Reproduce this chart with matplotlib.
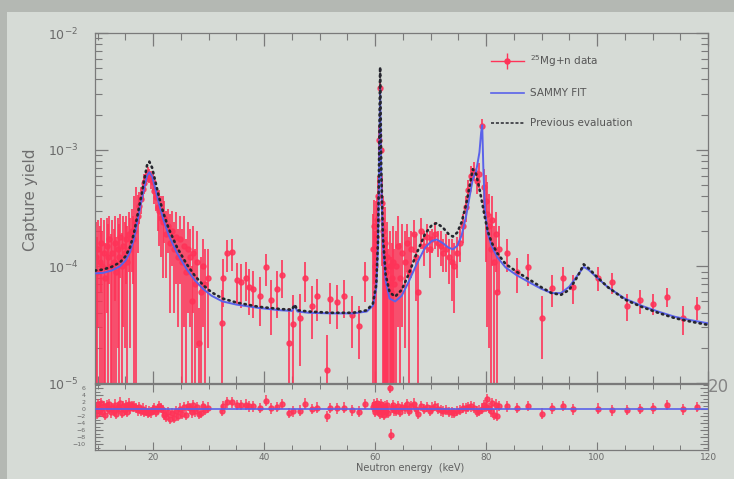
import numpy as np
import matplotlib.pyplot as plt
from matplotlib.lines import Line2D
from matplotlib.patches import Rectangle
from matplotlib.ticker import MultipleLocator, LogLocator, NullFormatter

# resonance curves: neutron energy (keV) vs capture yield
curve_energy = [9.5, 11, 12.5, 14, 15, 15.8, 16.5, 17.2, 17.8, 18.4, 18.9, 19.3, 19.8,
                20.4, 21.0, 21.8, 22.8, 24.3, 26.0, 27.5, 29.0, 30.5, 32.5, 35, 39, 43,
                45.0, 45.5, 46.0, 48, 52, 56, 58.5, 59.6, 60.2, 60.5, 60.7, 60.9, 61.1,
                61.4, 61.9, 62.6, 63.6, 64.8, 66.0, 67.5, 69.0, 70.2, 71.1, 72.2, 73.2,
                74.0, 74.8, 75.6, 76.4, 77.0, 77.6, 78.2, 78.8, 79.1, 79.3, 79.5, 79.8,
                80.3, 81.0, 82.0, 83.5, 85.5, 88, 90, 91.8, 93.5, 95, 96.5, 97.6, 98.5,
                100, 102, 105, 108, 111, 114, 117, 120]

sammy_fit = [8.7e-5, 8.8e-5, 9.2e-5, 1.0e-4, 1.12e-4, 1.32e-4, 1.7e-4, 2.5e-4, 3.5e-4,
             4.8e-4, 6.0e-4, 6.4e-4, 5.9e-4, 4.6e-4, 3.5e-4, 2.55e-4, 1.85e-4, 1.3e-4,
             9.5e-5, 7.6e-5, 6.4e-5, 5.6e-5, 5.0e-5, 4.7e-5, 4.4e-5, 4.2e-5, 4.15e-5,
             4.6e-5, 4.1e-5, 4.0e-5, 3.95e-5, 3.95e-5, 4.1e-5, 4.6e-5, 6.5e-5, 1.4e-4,
             5.5e-4, 3.5e-3, 5.5e-4, 1.5e-4, 7.5e-5, 5.3e-5, 5.0e-5, 5.6e-5, 7.3e-5,
             1.05e-4, 1.45e-4, 1.65e-4, 1.7e-4, 1.58e-4, 1.45e-4, 1.4e-4, 1.5e-4,
             1.85e-4, 2.7e-4, 3.9e-4, 5.6e-4, 6.5e-4, 9.5e-4, 1.4e-3, 1.62e-3, 7.0e-4,
             3.0e-4, 1.9e-4, 1.5e-4, 1.2e-4, 9.8e-5, 8.4e-5, 7.2e-5, 6.4e-5, 5.9e-5,
             5.9e-5, 6.7e-5, 8.4e-5, 9.9e-5, 9.3e-5, 8.0e-5, 6.6e-5, 5.3e-5, 4.6e-5,
             4.1e-5, 3.7e-5, 3.45e-5, 3.25e-5]

prev_eval = [9.2e-5, 9.4e-5, 9.9e-5, 1.08e-4, 1.22e-4, 1.45e-4, 1.9e-4, 2.8e-4, 3.9e-4,
             5.6e-4, 7.4e-4, 7.9e-4, 7.0e-4, 5.3e-4, 4.0e-4, 2.9e-4, 2.1e-4, 1.45e-4,
             1.05e-4, 8.3e-5, 6.9e-5, 6.0e-5, 5.3e-5, 4.9e-5, 4.5e-5, 4.3e-5, 4.25e-5,
             4.7e-5, 4.2e-5, 4.1e-5, 4.0e-5, 4.0e-5, 4.2e-5, 4.8e-5, 7.0e-5, 1.6e-4,
             7.0e-4, 5.1e-3, 7.0e-4, 1.8e-4, 8.5e-5, 6.0e-5, 5.5e-5, 6.3e-5, 8.5e-5,
             1.3e-4, 1.9e-4, 2.25e-4, 2.35e-4, 2.15e-4, 1.9e-4, 1.8e-4, 1.95e-4,
             2.4e-4, 3.4e-4, 4.8e-4, 6.8e-4, 6.2e-4, 4.6e-4, 3.9e-4, 3.5e-4, 3.1e-4,
             2.6e-4, 2.0e-4, 1.6e-4, 1.3e-4, 1.05e-4, 9.0e-5, 7.6e-5, 6.6e-5, 5.9e-5,
             5.7e-5, 6.3e-5, 8.2e-5, 1.04e-4, 9.6e-5, 8.1e-5, 6.6e-5, 5.2e-5, 4.5e-5,
             4.0e-5, 3.6e-5, 3.35e-5, 3.15e-5]

# measured points (yield and error in units of 1e-4) and normalised residuals
data_energy = [
    9.6, 9.85, 10.1, 10.35, 10.6, 10.85, 11.1, 11.35, 11.6, 11.85, 12.1, 12.35, 12.6, 12.85,
    13.1, 13.35, 13.6, 13.85, 14.1, 14.35, 14.6, 14.85, 15.1, 15.35, 15.6, 15.85, 16.1, 16.35,
    16.6, 16.9, 17.2, 17.5, 17.8, 18.1, 18.4, 18.7, 19.0, 19.3, 19.6, 19.9, 20.2, 20.5,
    20.8, 21.1, 21.4, 21.7,
    22.0, 22.35, 22.7, 23.05, 23.4, 23.75, 24.1, 24.45, 24.8, 25.15, 25.5, 25.85, 26.2,
    26.55, 26.9, 27.25, 27.6, 27.95, 28.3, 28.65, 29.0, 29.4, 29.8,
    32.4, 32.6, 33.3, 34.2, 35.1, 35.8, 36.7, 37.3, 38.0, 39.2, 40.3, 41.2, 42.3, 43.2,
    44.5, 45.2, 46.5, 47.4, 48.6, 49.5, 51.3, 51.9, 53.1, 54.4, 55.8, 57.1, 58.2,
    59.6, 59.8, 60.0, 60.2, 60.4, 60.6, 60.75, 60.9, 61.05, 61.2, 61.4, 61.6, 61.8, 62.0,
    62.2, 62.4, 62.6, 62.8, 63.0, 63.2, 63.4,
    63.7, 64.1, 64.5, 64.9, 65.3, 65.7, 66.1, 66.5, 67.0, 67.4, 67.8, 68.3, 68.8, 69.3,
    69.8, 70.3, 70.8, 71.3, 71.8, 72.3, 72.8, 73.3, 73.8, 74.3, 74.8, 75.3, 75.8, 76.3,
    76.8, 77.3, 77.8, 78.3, 78.8, 79.3, 79.6, 79.9, 80.2, 80.5, 80.8, 81.1, 81.4, 81.7,
    82.0, 82.4,
    83.8, 85.6, 87.6, 90.1, 91.9, 93.8, 95.7, 100.2, 102.7, 105.4, 107.7, 110.1, 112.6,
    115.5, 118.0,
]
data_yield = [
    1.2, 0.9, 1.4, 1.1, 1.6, 1.0, 1.3, 0.8, 1.5, 1.2, 1.7, 1.0, 1.3, 1.1,
    1.6, 0.9, 1.4, 1.2, 1.8, 1.0, 1.5, 1.3, 1.7, 1.1, 1.9, 1.4, 2.0, 1.7,
    2.0, 2.4, 2.7, 3.3, 3.8, 4.6, 5.2, 5.8, 6.2, 6.0, 5.6, 5.3, 4.4, 3.9,
    3.2, 3.0, 2.6, 2.4,
    2.6, 1.9, 2.2, 1.6, 2.0, 1.4, 1.8, 1.2, 1.7, 1.1, 1.5, 0.9, 1.4,
    1.2, 0.5, 1.3, 0.7, 1.1, 0.22, 0.6, 1.0, 0.7, 0.8,
    0.33, 0.80, 1.29, 1.32, 0.77, 0.74, 0.80, 0.66, 0.64, 0.56, 0.98, 0.51, 0.64, 0.84,
    0.22, 0.32, 0.36, 0.79, 0.46, 0.56, 0.13, 0.52, 0.49, 0.56, 0.38, 0.31, 0.79,
    1.4, 2.2, 1.0, 1.8, 2.5, 4.0, 12.0, 34.0, 10.0, 3.5, 2.0, 1.3, 1.6, 0.9,
    1.2, 0.7, 1.0, 0.6, 0.8, 1.1, 0.7,
    1.0, 1.5, 0.8, 1.3, 1.1, 1.6, 0.9, 1.4, 1.9, 1.2, 0.6, 2.0, 1.5, 1.8,
    1.4, 1.7, 1.9, 1.6, 1.5, 1.3, 1.4, 1.2, 1.1, 1.0, 1.3, 1.6, 2.2, 3.2,
    4.5, 6.0, 6.6, 5.4, 6.2, 16.0, 4.8, 3.6, 2.8, 2.2, 1.4, 2.5, 1.1, 1.9,
    0.6, 1.4,
    1.3, 0.89, 0.98, 0.36, 0.65, 0.79, 0.66, 0.80, 0.73, 0.46, 0.51, 0.48, 0.55,
    0.36, 0.45,
]
data_error = [
    1.2, 0.9, 1.1, 1.1, 1.0, 1.0, 1.2, 0.8, 1.1, 1.1, 1.0, 0.9, 1.2, 1.0,
    1.1, 0.9, 1.2, 1.1, 1.0, 0.95, 1.2, 1.1, 1.0, 1.1, 1.0, 1.2, 1.1, 1.0,
    2.0, 2.4, 1.4, 1.0, 1.0, 0.9, 1.0, 0.8, 0.9, 0.8, 1.0, 0.9, 1.0, 0.9,
    1.2, 1.5, 1.4, 1.6,
    1.0, 1.1, 0.9, 1.2, 1.0, 1.0, 1.1, 0.9, 1.0, 1.0, 1.2, 0.8, 1.0,
    0.9, 0.5, 0.9, 0.7, 0.9, 0.22, 0.6, 0.7, 0.7, 0.6,
    0.30, 0.35, 0.40, 0.40, 0.30, 0.30, 0.30, 0.28, 0.28, 0.25, 0.30, 0.25, 0.28, 0.30,
    0.22, 0.25, 0.22, 0.30, 0.22, 0.22, 0.13, 0.20, 0.20, 0.20, 0.18, 0.15, 0.30,
    1.4, 1.5, 1.0, 1.8, 1.5, 2.0, 4.0, 5.0, 4.0, 2.5, 2.0, 1.3, 1.6, 0.9,
    1.2, 0.7, 1.0, 0.6, 0.8, 1.1, 0.7,
    1.0, 1.2, 0.8, 1.0, 0.9, 0.7, 0.9, 0.6, 0.6, 0.7, 0.5, 0.6, 0.5, 0.5,
    0.6, 0.4, 0.5, 0.4, 0.5, 0.4, 0.5, 0.5, 0.6, 0.6, 0.5, 0.5, 0.6, 0.8,
    1.0, 1.2, 1.2, 1.2, 1.5, 2.5, 2.0, 2.5, 2.5, 2.0, 1.4, 1.5, 1.1, 1.0,
    0.6, 0.8,
    0.4, 0.3, 0.3, 0.2, 0.2, 0.2, 0.18, 0.18, 0.15, 0.12, 0.12, 0.1, 0.1,
    0.1, 0.1,
]
data_residual = [
    0.5, -1.2, 1.4, -0.3, 1.8, -0.8, 0.9, -1.6, 1.1, 0.2, 1.5, -0.9, 0.4, -0.4,
    1.3, -1.4, 0.7, 0.1, 1.9, -1.1, 0.8, -0.2, 1.2, -0.7, 1.6, 0.3, 1.0, 0.6,
    0.8, 0.4, -0.3, 0.6, -0.5, 0.2, -0.8, -0.4, -1.0, -0.6, -0.9, -0.2, 0.3, -0.7,
    0.1, 0.9, 0.4, -0.3,
    -1.5, -2.2, -0.8, -2.8, -1.0, -2.4, -0.5, -1.8, 0.2, -1.2, 0.6, -1.6, 0.9,
    0.3, -0.9, 1.1, -0.6, 0.7, -1.3, -1.0, 0.8, -0.2, 0.5,
    -0.5, 1.0, 2.0, 2.0, 1.2, 1.2, 1.3, 0.8, 0.8, 0.4, 2.5, 0.3, 0.7, 1.5,
    -1.1, -0.6, -0.4, 1.6, 0.1, 0.5, -2.0, 0.4, 0.3, 0.5, -0.3, -0.7, 1.5,
    0.6, 1.5, -0.8, 1.0, 1.8, -0.5, 0.8, -1.2, 1.4, -0.9, 0.5, -1.5, 0.9, -0.6,
    1.1, -1.0, 6.0, -7.2, 0.4, 1.2, -0.3,
    -0.4, 1.0, -0.8, 0.7, 0.3, 1.5, -0.5, 0.8, 1.6, 0.2, -1.2, 0.9, 0.1, 0.6,
    -0.4, 0.5, 0.9, 0.2, -0.3, -0.6, -0.2, -0.8, -0.9, -1.1, -0.5, -0.2, 0.4, 0.3,
    0.6, 0.8, 0.5, -0.7, -0.4, 0.2, 1.2, 0.6, 2.8, 0.4, -0.6, 1.8, -1.5, 1.3,
    -1.8, 0.9,
    0.8, 0.4, 0.9, -1.2, 0.3, 0.9, 0.0, 0.2, -0.3, -0.2, 0.1, 0.3, 1.2,
    0.0, 0.6,
]
resid_sigma = 1.5

assert len(data_energy) == len(data_yield) == len(data_error) == len(data_residual)

RED = '#ff3358'
BLUE = '#5a62ea'
DARK = '#26262e'
GREY = '#6a6a6a'
SLIDE = '#d6dbd6'

E = np.array(data_energy)
Y = np.array(data_yield) * 1e-4
Yerr = np.array(data_error) * 1e-4

fig = plt.figure(figsize=(7.34, 4.79), dpi=100, facecolor='#b4b8b3')
fig.patches.append(Rectangle((0.0095, 0), 0.9905, 0.975, transform=fig.transFigure,
                             facecolor=SLIDE, edgecolor='none', zorder=-10))

ax = fig.add_axes([0.1294, 0.2004, 0.8352, 0.7307])
ax_r = fig.add_axes([0.1294, 0.0605, 0.8352, 0.1378], sharex=ax)
for a in (ax, ax_r):
    a.set_facecolor(SLIDE)
    for s in a.spines.values():
        s.set_color('#7a7a7a')
        s.set_linewidth(0.9)

ax.set_yscale('log')
ax.errorbar(E, Y, yerr=Yerr, fmt='o', ms=3.6, color=RED, ecolor=RED, elinewidth=1.4,
            alpha=0.85, capsize=0, zorder=2)
ax.plot(curve_energy, sammy_fit, color=BLUE, lw=1.4, zorder=3)
ax.plot(curve_energy, prev_eval, color=DARK, lw=1.9, ls=(0, (0.5, 1.6)),
        dash_capstyle='round', zorder=4)

ax.set_xlim(9.5, 120)
ax.set_ylim(1e-5, 1e-2)
ax.xaxis.set_major_locator(MultipleLocator(20))
ax.xaxis.set_minor_locator(MultipleLocator(5))
ax.yaxis.set_major_locator(LogLocator(base=10))
ax.yaxis.set_minor_locator(LogLocator(base=10, subs=np.arange(2, 10)))
ax.yaxis.set_minor_formatter(NullFormatter())
ax.tick_params(which='both', direction='in', top=True, right=True, colors='#7a7a7a',
               labelcolor=GREY, labelbottom=False)
ax.tick_params(which='major', length=9, width=0.9)
ax.tick_params(which='minor', length=5, width=0.8)
ax.tick_params(axis='y', which='major', labelsize=9, pad=12)

# legend
h_data = (Line2D([], [], color=RED, marker='o', ms=3.6, lw=1.0),
          Line2D([], [], color=RED, marker='|', ms=11, ls='none'))
h_fit = Line2D([], [], color=BLUE, lw=1.2)
h_prev = Line2D([], [], color=DARK, lw=1.1, ls=(0, (2, 1.2)))
ax.legend([h_data, h_fit, h_prev],
          [r'$^{25}$Mg+n data', 'SAMMY FIT', 'Previous evaluation'],
          loc='upper left', bbox_to_anchor=(0.63, 0.97), frameon=False,
          fontsize=7.5, labelcolor='#555555', labelspacing=1.9, handlelength=3.2,
          handletextpad=0.6)

# residual panel
ax_r.errorbar(E, data_residual, yerr=resid_sigma, fmt='o', ms=3.6, color=RED, ecolor=RED,
              elinewidth=1.2, alpha=0.85, capsize=0, zorder=2)
ax_r.axhline(0, color=BLUE, lw=1.2, zorder=3)
ax_r.set_ylim(-11.6, 7.2)
ax_r.yaxis.set_major_locator(MultipleLocator(2))
ax_r.yaxis.set_minor_locator(MultipleLocator(1))
ax_r.tick_params(which='both', direction='in', top=True, right=True, colors='#7a7a7a',
                 labelcolor=GREY)
ax_r.tick_params(which='major', length=6, width=0.8)
ax_r.tick_params(which='minor', length=3.5, width=0.7)
ax_r.tick_params(axis='y', labelsize=4.5, pad=7)
ax_r.tick_params(axis='x', labelsize=6.5, pad=2)

fig.text(0.041, 0.582, 'Capture yield', rotation=90, ha='center', va='center',
         fontsize=11, color='#6e6e6e')
fig.text(0.559, 0.022, 'Neutron energy  (keV)', ha='center', va='center',
         fontsize=7, color='#5e5e5e')
fig.text(0.978, 0.193, '20', ha='center', va='center', fontsize=12, color='#858585')

fig.savefig('out.png', dpi=100, facecolor=fig.get_facecolor())
